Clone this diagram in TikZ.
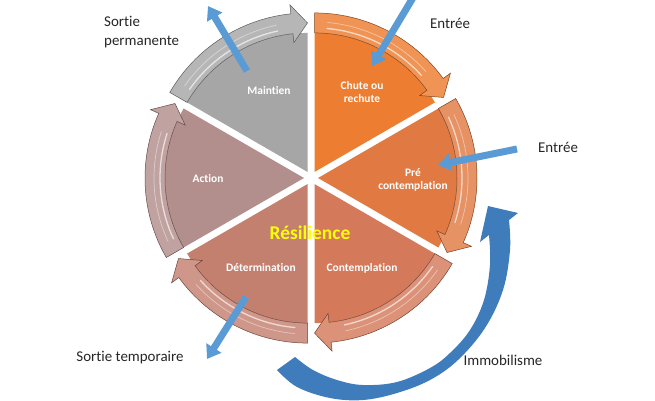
\documentclass[tikz,border=0pt]{standalone}
\usepackage{fontspec}
\setmainfont[Ligatures=NoCommon]{Carlito}
\usetikzlibrary{arrows.meta}
\definecolor{cGray}{HTML}{A6A6A6}
\definecolor{cOrange}{HTML}{ED7D31}
\definecolor{cPre}{HTML}{E07A42}
\definecolor{cCont}{HTML}{D47A5A}
\definecolor{cDet}{HTML}{C4806F}
\definecolor{cAct}{HTML}{B28E8C}
\definecolor{cBlue}{HTML}{5B9BD5}
\definecolor{cBigBlue}{HTML}{3E7CBC}
\definecolor{cLabel}{HTML}{262626}
\definecolor{cYellow}{HTML}{FFFF00}
\newcommand\drawseg[2]{%
  \pgfmathsetmacro\segS{#1+60}%
  \pgfmathsetmacro\segH{#1+6}%
  \pgfmathsetmacro\segB{#1+30}%
  \pgfmathsetmacro\segHa{#1+60-5}%
  \pgfmathsetmacro\segHb{#1+12}%
  \begin{scope}[shift={(311,222)}]
  \begin{scope}[shift={(\segB:7)}]
    \fill[#2] (0,0) -- (\segS:139) arc[start angle=\segS, end angle=#1, radius=139] -- cycle;
    \filldraw[fill=#2!82!white, draw=#2!55!black, line width=0.5bp]
      (\segS:139) arc[start angle=\segS, end angle=\segH, radius=139]
      -- (\segH:130) -- (#1:149) -- (\segH:168) -- (\segH:159)
      arc[start angle=\segH, end angle=\segS, radius=159] -- cycle;
    \draw[white, line width=1.3bp, opacity=0.65, line cap=round]
      (\segHa:144) arc[start angle=\segHa, end angle=\segHb, radius=144];
    \draw[white, line width=0.7bp, opacity=0.45, line cap=round]
      (\segHa:150) arc[start angle=\segHa, end angle=\segHb, radius=150];
  \end{scope}
  \end{scope}}
\tikzset{
  seglabel/.style={text=white, font=\bfseries\fontsize{11.5}{13}\selectfont, align=center, inner sep=0pt},
  outlabel/.style={text=cLabel, font=\fontsize{15}{19}\selectfont, inner sep=0pt},
  bluearrow/.style={draw=cBlue, line width=7bp, -{Triangle[length=13bp,width=17bp]}}
}
\begin{document}
\begin{tikzpicture}[x=1bp,y=1bp]
\useasboundingbox (0,0) rectangle (655,400);
\fill[white] (0,0) rectangle (655,400);

% segments
\drawseg{90}{cGray}
\drawseg{30}{cOrange}
\drawseg{-30}{cPre}
\drawseg{-90}{cCont}
\drawseg{-150}{cDet}
\drawseg{150}{cAct}

% segment labels
\node[seglabel] (maintien) at (269,309) {Maintien};
\node[seglabel] (chute) at (362,308) {Chute ou\\rechute};
\node[seglabel] (pre) at (413,220) {Pré\\contemplation};
\node[seglabel] (action) at (208,221) {Action};
\node[seglabel] (determination) at (261,132) {Détermination};
\node[seglabel] (contemplation) at (362,132) {Contemplation};
\node[text=cYellow, font=\bfseries\fontsize{19.5}{22}\selectfont, inner sep=0pt] (resilience) at (310,167) {Résilience};

% outside labels
\node[outlabel, anchor=west, align=left] (sortieperm) at (104,368) {Sortie\\permanente};
\node[outlabel] (entree1) at (450,377) {Entrée};
\node[outlabel] (entree2) at (558,253) {Entrée};
\node[outlabel] (sortietemp) at (130,42) {Sortie temporaire};
\node[outlabel] (immo) at (503,40) {Immobilisme};

% straight blue arrows
\coordinate (a1s) at (414,404);
\coordinate (a1e) at (372,334);
\coordinate (a2s) at (517,251);
\coordinate (a2e) at (438,235);
\coordinate (a3s) at (247,329);
\coordinate (a3e) at (208,394);
\coordinate (a4s) at (246,103);
\coordinate (a4e) at (207,41);
\draw[bluearrow] (a1s) -- (a1e);
\draw[bluearrow] (a2s) -- (a2e);
\draw[bluearrow] (a3s) -- (a3e);
\draw[bluearrow] (a4s) -- (a4e);

% big curved arrow (Immobilisme)
\fill[cBigBlue]
  plot[smooth, tension=0.6] coordinates {(277,30) (297,13) (330,2) (363,0) (397,7) (430,20) (458,40) (485,72) (503,110) (510,150) (509,180)}
  -- (518,187) -- (488,194) -- (480,158) --
  plot[smooth, tension=0.6] coordinates {(489,165) (490,135) (484,100) (470,70) (450,47) (430,32) (397,18) (363,15) (337,20) (313,30) (295,43)}
  -- cycle;
\end{tikzpicture}
\end{document}
